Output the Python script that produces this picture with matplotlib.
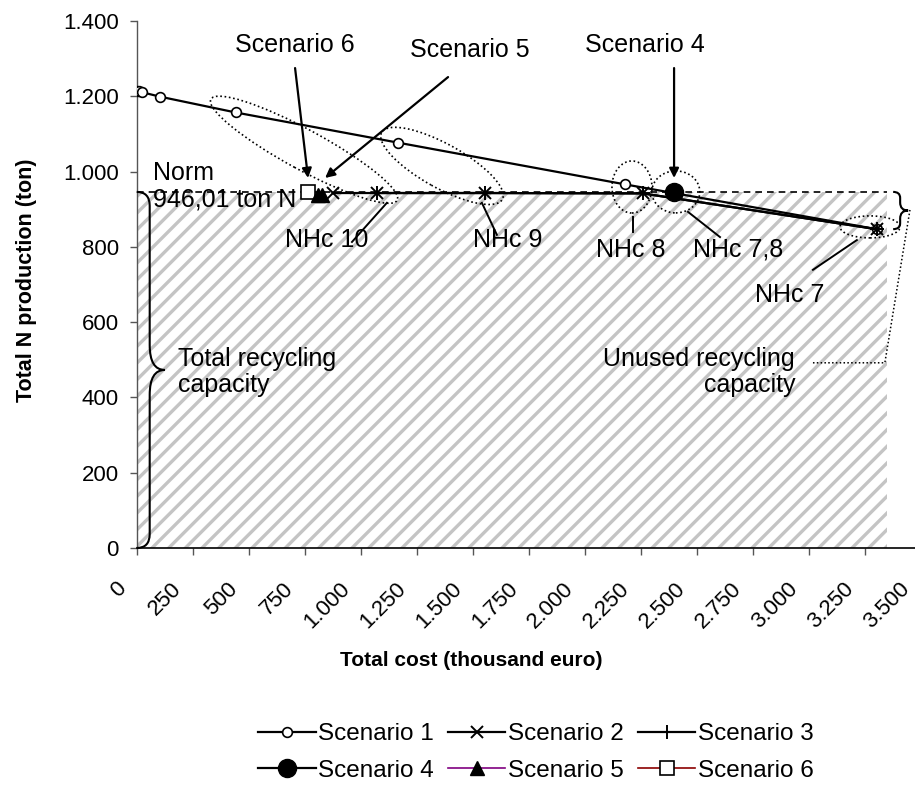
import matplotlib
matplotlib.use('Agg')
import matplotlib.pyplot as plt
from matplotlib.patches import Ellipse, Rectangle, PathPatch
from matplotlib.path import Path
import matplotlib.transforms as mtransforms

plt.rcParams['font.family'] = ['Liberation Sans', 'DejaVu Sans']
plt.rcParams['hatch.linewidth'] = 2.4

# ---------------- data ----------------
s1_cost = [0, 10, 22, 104, 442, 1165, 2180, 3303]
s1_n = [1215, 1213, 1211, 1199, 1157, 1077, 966, 847]
s2_cost = [878, 1071, 1555, 2259, 3303]
s2_n = [943, 943, 943, 942, 847]
s3_cost = [1071, 1555, 2259, 3303]
s3_n = [943, 943, 942, 847]
s4_cost = [2399]
s4_n = [945]
s5_cost = [808, 828]
s5_n = [938, 938]
s6_cost = [766]
s6_n = [947]
norm_value = 946.01
capacity_cost = 3349
x_ticks = [0, 250, 500, 750, 1000, 1250, 1500, 1750, 2000, 2250, 2500, 2750, 3000, 3250, 3500]
y_ticks = [0, 200, 400, 600, 800, 1000, 1200, 1400]


def fmt(v):
    return f"{v:,}".replace(",", ".")


W, H = 915, 794
fig = plt.figure(figsize=(W / 100, H / 100), dpi=100)
x0, x1 = 136.7, 920.7
y0, y1 = 548, 21
ax = fig.add_axes([x0 / W, 1 - y0 / H, (x1 - x0) / W, (y0 - y1) / H])
ax.set_xlim(0, 3500)
ax.set_ylim(0, 1400)

# shift rotated x tick labels slightly to the left
_orig_t1 = ax.get_xaxis_text1_transform


def _shifted_t1(pad):
    tr, va, ha = _orig_t1(pad)
    return tr + mtransforms.ScaledTranslation(-14 / 100, 0, fig.dpi_scale_trans), va, ha


ax.get_xaxis_text1_transform = _shifted_t1

for s in ['top', 'right']:
    ax.spines[s].set_visible(False)
ax.spines['left'].set_color('#555555')
ax.spines['bottom'].set_color('black')
ax.spines['left'].set_linewidth(1.0)
ax.spines['bottom'].set_linewidth(1.2)

tick_fs = 16
ax.set_xticks(x_ticks)
ax.set_xticklabels([fmt(v) for v in x_ticks], rotation=45, ha='right',
                   va='center', rotation_mode='anchor', fontsize=tick_fs)
ax.set_yticks(y_ticks)
ax.set_yticklabels([fmt(v) for v in y_ticks], fontsize=tick_fs)
ax.tick_params(axis='x', direction='out', length=5, width=1, pad=22, color='#555555')
ax.tick_params(axis='y', direction='out', length=5, width=1, pad=8, color='#555555')

# hatched capacity area
rect = Rectangle((0, 0), capacity_cost, norm_value, facecolor='none',
                 edgecolor='#c4c4c4', hatch='//', linewidth=0, zorder=0)
ax.add_patch(rect)
ax.plot([0, capacity_cost], [norm_value, norm_value], ls=(0, (4, 3)),
        color='black', lw=1.2, zorder=1)

# series
l1, = ax.plot(s1_cost, s1_n, '-', color='black', lw=1.6, marker='o', ms=7,
              mfc='white', mec='black', mew=1.2, zorder=3)
l2, = ax.plot(s2_cost, s2_n, '-', color='black', lw=1.6, marker='x', ms=8,
              mew=1.4, zorder=3)
l3, = ax.plot(s3_cost, s3_n, '-', color='black', lw=1.6, marker='+', ms=10,
              mew=1.4, zorder=3)
l4, = ax.plot(s4_cost, s4_n, '-', color='black', lw=1.6, marker='o', ms=13,
              mfc='black', mec='black', zorder=4)
l5, = ax.plot(s5_cost, s5_n, '-', color='#800080', lw=1.2, marker='^', ms=10,
              mfc='black', mec='black', zorder=4)
l6, = ax.plot(s6_cost, s6_n, '-', color='#8b0000', lw=1.2, marker='s', ms=10,
              mfc='white', mec='black', mew=1.2, zorder=3)

# axis titles
fig.text(471 / W, 1 - 661 / H, 'Total cost (thousand euro)', ha='center',
         va='center', fontsize=15, fontweight='bold')
fig.text(27 / W, 1 - 280 / H, 'Total N production (ton)', ha='center',
         va='center', fontsize=15.5, fontweight='bold', rotation=90)

# annotations
fs = 18
arrow = dict(arrowstyle='-|>', color='black', lw=1.6, mutation_scale=14,
             shrinkA=0, shrinkB=0)
ax.text(707, 1336, 'Scenario 6', ha='center', va='center', fontsize=fs)
ax.annotate('', xy=(765, 983), xytext=(707, 1275), arrowprops=arrow)
ax.text(1488, 1323, 'Scenario 5', ha='center', va='center', fontsize=fs)
ax.annotate('', xy=(841, 983), xytext=(1390, 1251), arrowprops=arrow)
ax.text(2269, 1336, 'Scenario 4', ha='center', va='center', fontsize=fs)
ax.annotate('', xy=(s4_cost[0], 983), xytext=(s4_cost[0], 1275), arrowprops=arrow)

ax.text(72, 997, 'Norm', ha='left', va='center', fontsize=fs)
ax.text(72, 925, '946,01 ton N', ha='left', va='center', fontsize=fs)

leader = dict(color='black', lw=1.4, clip_on=False)
ax.text(849, 818, 'NHc 10', ha='center', va='center', fontsize=fs)
ax.plot([961, 1117], [813, 917], **leader)
ax.text(1658, 818, 'NHc 9', ha='center', va='center', fontsize=fs)
ax.plot([1608, 1541], [832, 917], **leader)
ax.text(2206, 792, 'NHc 8', ha='center', va='center', fontsize=fs)
ax.plot([2215, 2215], [840, 880], **leader)
ax.text(2684, 792, 'NHc 7,8', ha='center', va='center', fontsize=fs)
ax.plot([2604, 2461], [826, 893], **leader)
ax.text(2913, 672, 'NHc 7', ha='center', va='center', fontsize=fs)
ax.plot([3019, 3215], [739, 818], **leader)

ax.text(184, 468, 'Total recycling\ncapacity', ha='left', va='center',
        fontsize=fs, linespacing=1.1)
ax.text(2939, 468, 'Unused recycling\ncapacity', ha='right', va='center',
        fontsize=fs, linespacing=1.1, multialignment='right')
ax.plot([3019, 3340, 3452], [492, 492, 898], ls=(0, (1, 1.5)), color='black',
        lw=1.1, clip_on=False)


# dotted ellipses (size in pixels, centered at data positions)
def ell(cx, cy, w, h, ang):
    tr = fig.dpi_scale_trans + mtransforms.ScaledTranslation(cx, cy, ax.transData)
    e = Ellipse((0, 0), w / 100, h / 100, angle=ang, transform=tr, fill=False,
                ls=(0, (1, 1.6)), lw=1.2, edgecolor='black', clip_on=False, zorder=5)
    fig.add_artist(e)


ell(747, 1058, 212, 40, -28.5)
ell(1363, 1015, 138, 44, -29)
ell(2211, 959, 40, 52, 0)
ell(2407, 946, 48, 42, 0)
ell(3274, 853, 60, 22, 0)


# braces
def brace(xd, ytop, ybot, w, tip, r_end, r_tip):
    t = ax.transData
    xa, yt = t.transform((xd, ytop))
    _, yb = t.transform((xd, ybot))
    ym = (yt + yb) / 2
    xb = xa + w
    xt = xb + tip
    verts = [(xa, yt), (xb, yt), (xb, yt - r_end),
             (xb, ym + r_tip),
             (xb, ym), (xt, ym),
             (xb, ym), (xb, ym - r_tip),
             (xb, yb + r_end),
             (xb, yb), (xa, yb)]
    codes = [Path.MOVETO, Path.CURVE3, Path.CURVE3, Path.LINETO,
             Path.CURVE3, Path.CURVE3, Path.CURVE3, Path.CURVE3,
             Path.LINETO, Path.CURVE3, Path.CURVE3]
    dv = t.inverted().transform(verts)
    p = PathPatch(Path(dv, codes), fill=False, lw=1.5, edgecolor='black',
                  clip_on=False, zorder=6)
    ax.add_patch(p)


brace(0, norm_value, 0, 13, 15, 14, 25)
brace(3377, norm_value, 847, 7, 8, 6, 8)

# legend (row-wise order: 1 2 3 / 4 5 6)
handles = [l1, l4, l2, l5, l3, l6]
labels = ['Scenario 1', 'Scenario 4', 'Scenario 2', 'Scenario 5', 'Scenario 3', 'Scenario 6']
leg = fig.legend(handles, labels, loc='center', bbox_to_anchor=(536 / W, 1 - 752.5 / H),
                 ncol=3, frameon=False, fontsize=17.5, handlelength=2.35,
                 handletextpad=0.1, columnspacing=0.6, labelspacing=0.6)

fig.savefig('out.png', dpi=100)
